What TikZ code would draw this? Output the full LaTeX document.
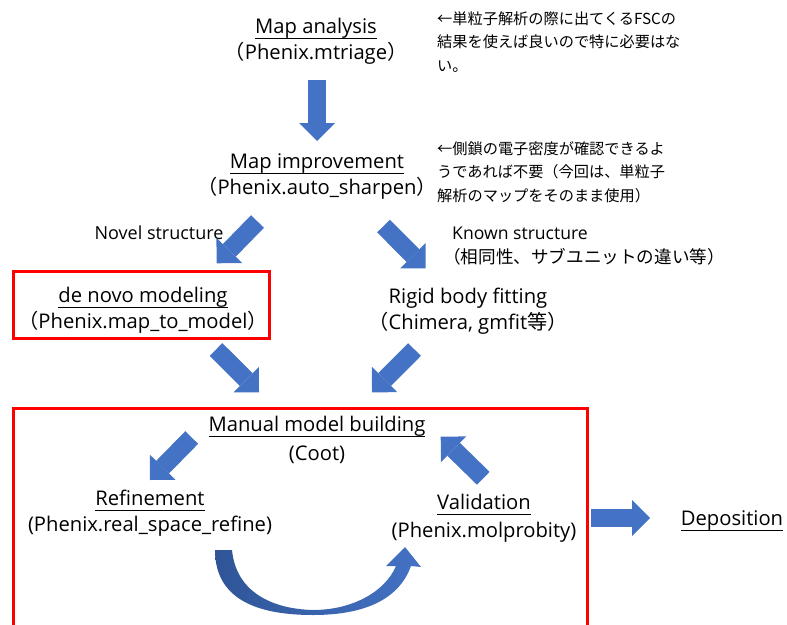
\documentclass[tikz,border=0pt]{standalone}
\usepackage{fontspec}
\setmainfont{Open Sans}
\newfontfamily\jpfont{Noto Sans CJK JP}
\newcommand{\jp}[1]{{\jpfont #1}}
\newcommand{\ul}[1]{\leavevmode\setbox0\hbox{#1}\rlap{\rule[-5.5pt]{\wd0}{1.2pt}}\box0}
\usetikzlibrary{positioning,arrows.meta,calc}
\definecolor{arrowblue}{HTML}{4472C4}
\definecolor{arrowdark}{HTML}{2F5597}

\begin{document}
\begin{tikzpicture}[
    x=1pt, y=-1pt,
    label/.style={align=center, inner sep=0pt, font=\fontsize{20.2}{26}\selectfont},
    side/.style={align=left, inner sep=0pt, font=\fontsize{18}{24}\selectfont},
    note/.style={align=left, inner sep=0pt, anchor=west, font=\jpfont\fontsize{15.2}{23.5}\selectfont},
    redbox/.style={draw=red, line width=3pt},
    blockarr/.style={draw=arrowblue, line width=18pt, -{Triangle[length=18pt, width=36pt, line width=0pt]}}
]
\useasboundingbox (0,0) rectangle (787,624);
\clip (0,0) rectangle (787,624);

\node[label] (analysis) at (316,41) {\ul{Map analysis}\\\jp{（}Phenix.mtriage\jp{）}};
\node[note] (analysisnote) at (437,42) {←単粒子解析の際に出てくるFSCの\\結果を使えば良いので特に必要はな\\い。};
\node[label] (improve) at (317,177) {\ul{Map improvement}\\\jp{（}Phenix.auto\_sharpen\jp{）}};
\node[note] (improvenote) at (437,172) {←側鎖の電子密度が確認できるよ\\うであれば不要（今回は、単粒子\\解析のマップをそのまま使用）};
\node[side] (novel) at (159,233) {Novel structure};
\node[side, anchor=west, font=\fontsize{17.6}{24}\selectfont] (known) at (443,246) {\hspace*{9pt}Known structure\\\jp{（相同性、サブユニットの違い等）}};
\node[label] (denovo) at (143,310) {\ul{de novo modeling}\\\jp{（}Phenix.map\_to\_model\jp{）}};
\draw[redbox] (13.5,271.5) rectangle (269.5,338.5);
\node[label] (rigid) at (468,311) {Rigid body fitting\\\jp{（}Chimera, gmfit\jp{等）}};
\node[label] (manual) at (317,440) {\ul{Manual model building}\\[3pt](Coot)};
\node[label] (refine) at (150,513) {\ul{Refinement}\\(Phenix.real\_space\_refine)};
\node[label] (valid) at (484,518) {\ul{Validation}\\[2pt](Phenix.molprobity)};
\node[label] (depo) at (732,521) {\ul{Deposition}};

% the cycle box runs off the bottom
\draw[redbox] (13.5,408.5) rectangle (587.5,640);

% ends of the block arrows
\foreach \n/\p in {down1/{317,80}, tip1/{317,141},
                   novel1/{257.5,221.5}, tip2/{216.7,263.3},
                   known1/{383.5,226}, tip3/{425.7,268.3},
                   denovo1/{216,349.5}, tip4/{259,392.3},
                   rigid1/{414.5,349.5}, tip5/{372,392.3},
                   manual1/{191.7,437.5}, tip6/{150,480},
                   valid1/{483.3,478.3}, tip7/{440.7,436.7},
                   depo1/{591,518}, tip8/{650,518}}
  \coordinate (\n) at (\p);

\draw[blockarr] (down1) -- (tip1);
\draw[blockarr] (novel1) -- (tip2);
\draw[blockarr] (known1) -- (tip3);
\draw[blockarr] (denovo1) -- (tip4);
\draw[blockarr] (rigid1) -- (tip5);
\draw[blockarr] (manual1) -- (tip6);
\draw[blockarr] (valid1) -- (tip7);
\draw[blockarr] (depo1) -- (tip8);

% refinement -> validation
\shade[left color=arrowdark, right color=arrowblue]
  (215,550) -- (232,550) .. controls (236,592) and (272,609) .. (313,610)
  .. controls (352,610) and (385,592) .. (396,566) -- (386,566) -- (405,547)
  -- (421,567) -- (411,566) .. controls (398,602) and (360,615) .. (313,615)
  .. controls (262,615) and (215,602) .. (215,550) -- cycle;
\end{tikzpicture}
\end{document}
